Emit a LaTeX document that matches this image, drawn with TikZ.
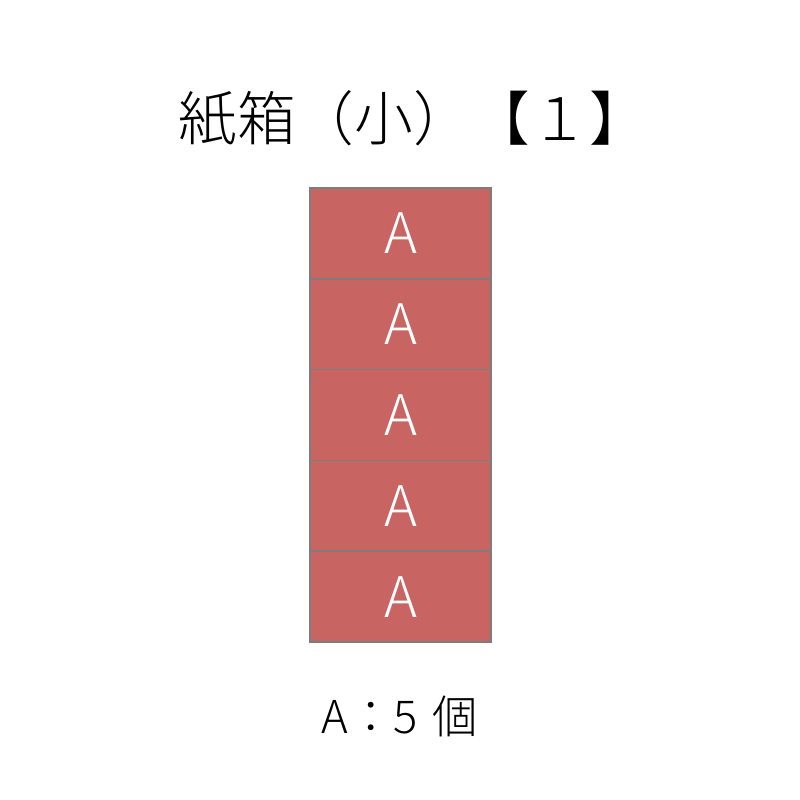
\documentclass[tikz,border=0pt]{standalone}
\usepackage{fontspec}
\setmainfont{Noto Sans CJK JP Light}
\definecolor{boxred}{RGB}{200,100,98}
\definecolor{boxline}{RGB}{125,125,125}
\begin{document}
\begin{tikzpicture}[x=0.75pt,y=-0.75pt,
  cell/.style={draw=boxline,line width=1.1pt,fill=boxred,minimum width=181*0.75pt,minimum height=90.8*0.75pt,inner sep=0pt,text=white,font=\fontsize{42}{42}\selectfont},
]
\useasboundingbox (0,0) rectangle (800,800);
\node (title) at (413,118) {\fontsize{44}{44}\selectfont 紙箱（小）【１】};
\foreach \i in {0,...,4}{
  \node[cell] (c\i) at (400.5,{188+90.8*\i+45.4}) {A};
}
\node (count) at (400,716) {\fontsize{34}{34}\selectfont A：5\,\,個};
\end{tikzpicture}
\end{document}
